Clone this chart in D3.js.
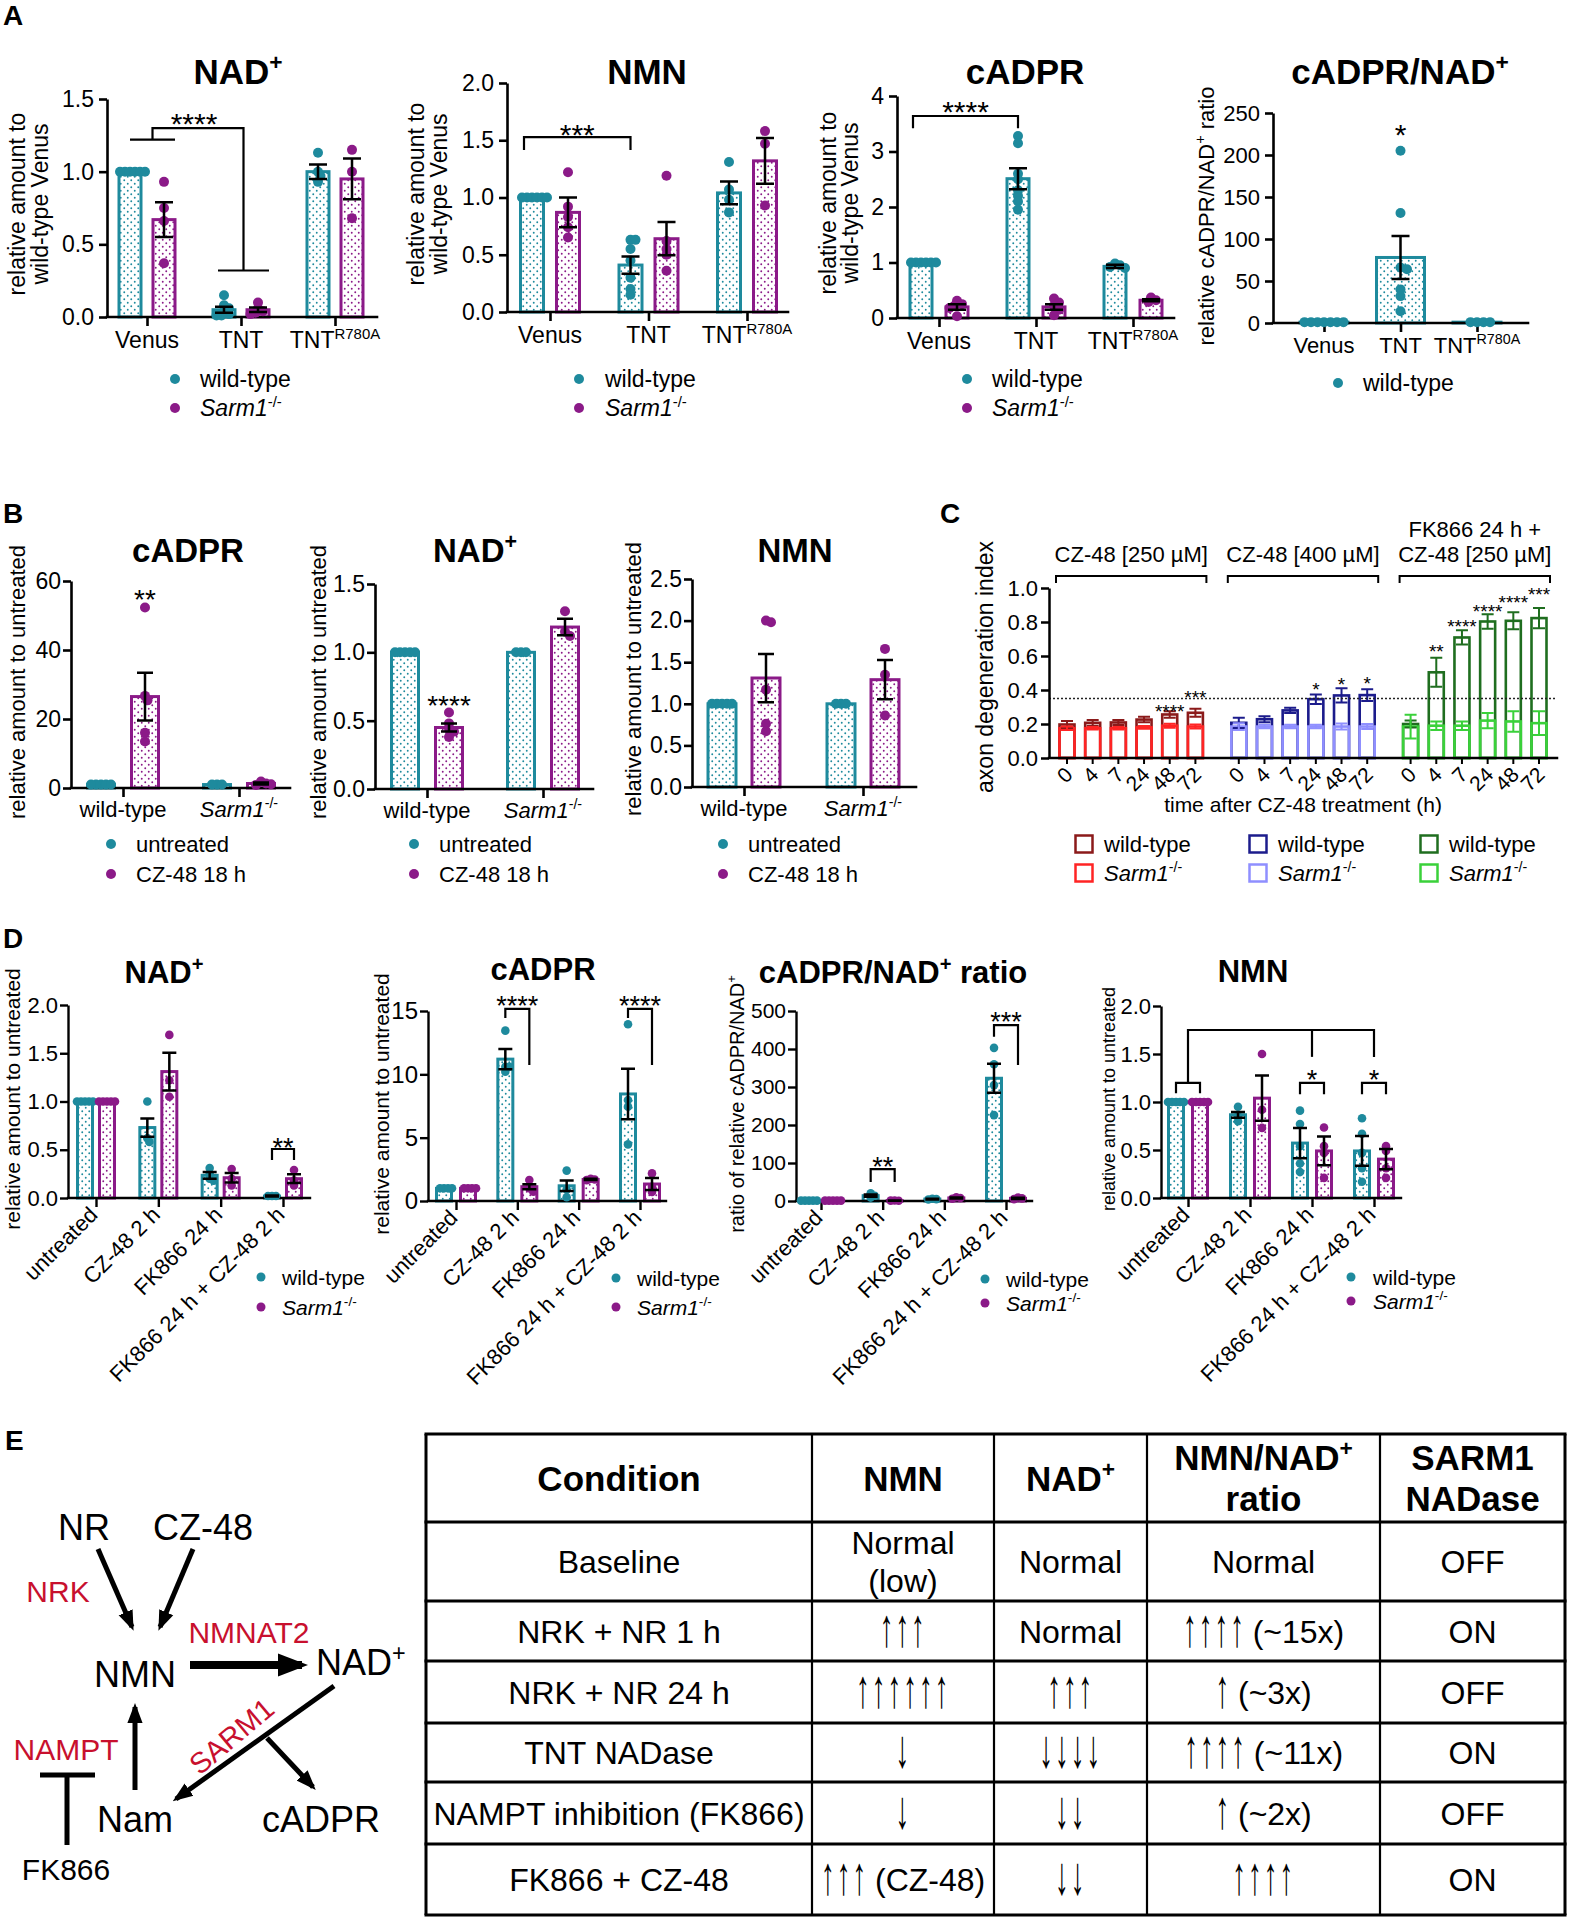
<!DOCTYPE html>
<html>
<head>
<meta charset="utf-8">
<script src="https://cdn.jsdelivr.net/npm/d3@7"></script>
<style>
  body { margin: 0; background: #fff; }
  svg { display: block; }
</style>
</head>
<body>
<div id="container"></div>
<script>
// ---------- data: panel A ----------
const aGroups = ['Venus', 'TNT', 'TNT^{R780A}'];
const aSeries = ['wild-type', '_{Sarm1}^{-/-}'];
const aSeriesWt = ['wild-type'];

const aNadTicks = [0, 0.5, 1.0, 1.5];
const aNadMean = [[1.00, 0.67], [0.05, 0.05], [1.00, 0.95]];
const aNadSem = [[0, 0.12], [0.02, 0.015], [0.05, 0.14]];
const aNadPts = [[[1, 1, 1, 1, 1, 1], [0.93, 0.75, 0.66, 0.37]],
                 [[0.15, 0.08, 0.06, 0.04, 0.02, 0.01, 0.01], [0.10, 0.06, 0.04, 0.03, 0.02]],
                 [[1.13, 1.00, 0.97, 0.93], [1.15, 1.00, 0.68]]];

const aNmnTicks = [0, 0.5, 1.0, 1.5, 2.0];
const aNmnMean = [[1.00, 0.87], [0.41, 0.64], [1.04, 1.32]];
const aNmnSem = [[0, 0.13], [0.075, 0.145], [0.10, 0.20]];
const aNmnPts = [[[1, 1, 1, 1, 1, 1], [1.22, 0.92, 0.83, 0.74, 0.65]],
                 [[0.63, 0.63, 0.55, 0.45, 0.30, 0.20, 0.15], [1.19, 0.62, 0.55, 0.50, 0.36]],
                 [[1.31, 1.07, 0.98, 0.87], [1.58, 1.47, 0.93]]];

const aCadprTicks = [0, 1, 2, 3, 4];
const aCadprMean = [[1.00, 0.20], [2.51, 0.20], [0.93, 0.32]];
const aCadprSem = [[0, 0.05], [0.19, 0.05], [0.03, 0.02]];
const aCadprPts = [[[1, 1, 1, 1, 1, 1], [0.31, 0.25, 0.22, 0.18, 0.03]],
                   [[3.28, 3.15, 2.60, 2.50, 2.30, 2.20, 2.10, 1.95], [0.35, 0.28, 0.22, 0.15, 0.05]],
                   [[0.98, 0.95, 0.92, 0.90], [0.37, 0.32, 0.29]]];

const aRatioTicks = [0, 50, 100, 150, 200, 250];
const aRatioMean = [[1], [78], [1]];
const aRatioSem = [[0], [25.5], [0]];
const aRatioPts = [[[1, 1, 1, 1, 1, 1, 1]], [[205, 131, 66, 64, 40, 32, 14]], [[1, 1, 1, 1]]];

// ---------- data: panel B ----------
const bGroups = ['wild-type', '_{Sarm1}^{-/-}'];
const bSeries = ['untreated', 'CZ-48 18 h'];

const bCadprTicks = [0, 20, 40, 60];
const bCadprMean = [[1, 26.5], [1, 1.3]];
const bCadprSem = [[0, 6.9], [0, 0.3]];
const bCadprPts = [[[1, 1, 1, 1, 1], [52.3, 26.7, 25.4, 16.0, 13.5]], [[1, 1, 1], [1.9, 1.3, 0.9, 1.1]]];

const bNadTicks = [0, 0.5, 1.0, 1.5];
const bNadMean = [[1, 0.45], [1, 1.185]];
const bNadSem = [[0, 0.03], [0, 0.06]];
const bNadPts = [[[1, 1, 1, 1, 1], [0.56, 0.48, 0.44, 0.42, 0.38]], [[1, 1, 1], [1.30, 1.15, 1.12]]];

const bNmnTicks = [0, 0.5, 1.0, 1.5, 2.0, 2.5];
const bNmnMean = [[1, 1.31], [1, 1.29]];
const bNmnSem = [[0, 0.29], [0, 0.235]];
const bNmnPts = [[[1, 1, 1, 1, 1], [2.00, 1.98, 1.17, 0.76, 0.67]], [[1, 1, 1], [1.66, 1.35, 0.86]]];

// ---------- data: panel C ----------
const cHours = ['0', '4', '7', '24', '48', '72'];
const cGroups = ['CZ-48 [250 µM]', 'CZ-48 [400 µM]', 'FK866 24 h +|CZ-48 [250 µM]'];
const cTicks = [0, 0.2, 0.4, 0.6, 0.8, 1.0];
const cWtMean = [[0.197, 0.207, 0.209, 0.226, 0.256, 0.266],
                 [0.207, 0.228, 0.280, 0.346, 0.368, 0.370],
                 [0.200, 0.504, 0.709, 0.803, 0.807, 0.823]];
const cWtSem = [[0.020, 0.017, 0.015, 0.016, 0.019, 0.023],
                [0.030, 0.018, 0.015, 0.028, 0.042, 0.035],
                [0.020, 0.085, 0.042, 0.042, 0.050, 0.060]];
const cKoMean = [[0.175, 0.175, 0.175, 0.180, 0.190, 0.185],
                 [0.185, 0.185, 0.185, 0.185, 0.185, 0.185],
                 [0.185, 0.190, 0.190, 0.220, 0.215, 0.205]];
const cKoSem = [[0.010, 0.008, 0.008, 0.008, 0.012, 0.012],
                [0.020, 0.010, 0.010, 0.010, 0.018, 0.015],
                [0.070, 0.025, 0.025, 0.045, 0.060, 0.070]];
const cStars = [['', '', '', '', '****', '***'], ['', '', '', '*', '*', '*'], ['', '**', '****', '****', '****', '***']];
const cStarLevel = [[0, 0, 0, 0, 0.30, 0.38], [0, 0, 0, 0.43, 0.46, 0.465], [0, 0.65, 0.80, 0.89, 0.94, 0.99]];
const cThreshold = 0.35;
const cLegend = ['wild-type', '_{Sarm1}^{-/-}'];

// ---------- data: panel D ----------
const dConds = ['untreated', 'CZ-48 2 h', 'FK866 24 h', 'FK866 24 h + CZ-48 2 h'];
const dSeries = ['wild-type', '_{Sarm1}^{-/-}'];

const dNadTicks = [0, 0.5, 1.0, 1.5, 2.0];
const dNadMean = [[1, 1], [0.73, 1.31], [0.235, 0.21], [0.02, 0.20]];
const dNadSem = [[0, 0], [0.095, 0.195], [0.035, 0.05], [0.005, 0.045]];
const dNadPts = [[[1, 1, 1, 1, 1], [1, 1, 1, 1, 1]], [[1.00, 0.62, 0.58], [1.69, 1.22, 1.05]],
                 [[0.31, 0.25, 0.20, 0.18], [0.30, 0.20, 0.13]], [[0.02, 0.02, 0.02], [0.29, 0.18, 0.13]]];

const dCadprTicks = [0, 5, 10, 15];
const dCadprMean = [[1, 1], [11.2, 1.13], [1.2, 1.7], [8.45, 1.34]];
const dCadprSem = [[0, 0], [0.8, 0.2], [0.42, 0.05], [2.0, 0.47]];
const dCadprPts = [[[1, 1, 1, 1], [1, 1, 1, 1]], [[13.45, 10.6, 10.2, 10.6], [1.66, 1.0, 0.74]],
                   [[2.4, 0.9, 0.3], [1.75, 1.7, 1.65]], [[13.95, 7.97, 7.45, 4.47], [2.18, 1.13, 0.71]]];

const dRatioTicks = [0, 100, 200, 300, 400, 500];
const dRatioMean = [[1, 1], [14, 1], [5, 8], [323, 7]];
const dRatioSem = [[0, 0], [3, 0.3], [1, 1.5], [38, 1.5]];
const dRatioPts = [[[1, 1, 1, 1, 1], [1, 1, 1, 1, 1]], [[20, 14, 9], [1.2, 0.8, 1.0]],
                   [[6, 5, 4], [10, 8, 6]], [[403, 360, 305, 226], [9, 7, 5]]];

const dNmnTicks = [0, 0.5, 1.0, 1.5, 2.0];
const dNmnMean = [[1, 1], [0.867, 1.04], [0.572, 0.49], [0.49, 0.405]];
const dNmnSem = [[0, 0], [0.03, 0.235], [0.157, 0.15], [0.155, 0.105]];
const dNmnPts = [[[1, 1, 1, 1, 1], [1, 1, 1, 1, 1]], [[0.95, 0.85, 0.80], [1.50, 0.92, 0.73]],
                 [[0.91, 0.77, 0.54, 0.36, 0.27], [0.735, 0.54, 0.47, 0.21]],
                 [[0.83, 0.67, 0.47, 0.31, 0.17], [0.54, 0.49, 0.31, 0.21]]];

// ---------- data: panel E table ----------
const eHeader = ['Condition', 'NMN', 'NAD^{+}', 'NMN/NAD^{+}|ratio', 'SARM1|NADase'];
const eCondition = ['Baseline', 'NRK + NR 1 h', 'NRK + NR 24 h', 'TNT NADase', 'NAMPT inhibition (FK866)', 'FK866 + CZ-48'];
const eNmn = ['Normal|(low)', '↑↑↑', '↑↑↑↑↑↑', '↓', '↓', '↑↑↑ (CZ-48)'];
const eNad = ['Normal', 'Normal', '↑↑↑', '↓↓↓↓', '↓↓', '↓↓'];
const eRatio = ['Normal', '↑↑↑↑ (~15x)', '↑ (~3x)', '↑↑↑↑ (~11x)', '↑ (~2x)', '↑↑↑↑'];
const eNadase = ['OFF', 'ON', 'OFF', 'ON', 'OFF', 'ON'];

// ---------- setup ----------
const FONT = "'Liberation Sans', Arial, Helvetica, sans-serif";
const TEAL = '#1e8a9d';
const PURPLE = '#8b1a88';
const RED = '#c8102e';

const svg = d3.select('#container').append('svg')
    .attr('width', 1570).attr('height', 1920)
    .attr('font-family', FONT);
svg.append('rect').attr('width', 1570).attr('height', 1920).attr('fill', '#fff');

const defs = svg.append('defs');
function dotPattern(id, color) {
    const p = defs.append('pattern').attr('id', id)
        .attr('patternUnits', 'userSpaceOnUse').attr('width', 7).attr('height', 7);
    p.append('rect').attr('width', 7).attr('height', 7).attr('fill', '#fff');
    p.append('circle').attr('cx', 1.75).attr('cy', 1.75).attr('r', 0.95).attr('fill', color);
    p.append('circle').attr('cx', 5.25).attr('cy', 5.25).attr('r', 0.95).attr('fill', color);
}
dotPattern('dotTeal', TEAL);
dotPattern('dotPurple', PURPLE);

function arrowMarker(id, size) {
    defs.append('marker').attr('id', id)
        .attr('viewBox', '0 0 10 10').attr('refX', 8).attr('refY', 5)
        .attr('markerWidth', size).attr('markerHeight', size)
        .attr('markerUnits', 'userSpaceOnUse').attr('orient', 'auto')
        .append('path').attr('d', 'M0,1.2 L10,5 L0,8.8 z').attr('fill', '#000');
}
arrowMarker('arrow', 20);
arrowMarker('arrowBig', 30);

// text with ^{sup} and _{italic} pieces
function rich(sel, str, fs) {
    const re = /\^\{([^}]*)\}|_\{([^}]*)\}|([^^_]+)/g;
    const sh = fs * 0.4;
    let m, up = false;
    while ((m = re.exec(str)) !== null) {
        const t = sel.append('tspan');
        if (m[1] !== undefined) {
            t.text(m[1]).attr('font-size', fs * 0.65).attr('dy', -sh);
            up = true;
        } else {
            t.text(m[2] !== undefined ? m[2] : m[3]);
            if (m[2] !== undefined) t.attr('font-style', 'italic');
            if (up) { t.attr('dy', sh); up = false; }
        }
    }
    return sel;
}

function txt(parent, x, y, str, fs, o = {}) {
    const t = parent.append('text')
        .attr('transform', `translate(${x},${y})` + (o.rot ? ` rotate(${o.rot})` : ''))
        .attr('font-size', fs)
        .attr('text-anchor', o.anchor || 'middle')
        .attr('font-weight', o.bold ? 'bold' : 'normal')
        .attr('fill', o.fill || '#000');
    return rich(t, str, fs);
}

// simple deterministic swarm so equal values sit side by side
function swarm(vals, y, spread) {
    const placed = [];
    return vals.map(v => {
        const py = y(v);
        let dx = 0;
        for (let k = 0; k < 60; k++) {
            dx = (k % 2 ? 1 : -1) * Math.ceil(k / 2) * spread / 2;
            if (placed.every(p => Math.hypot(p.dx - dx, p.y - py) >= spread)) break;
        }
        placed.push({ dx: dx, y: py });
        return { dx: dx, y: py };
    });
}

function drawBarChart(c) {
    const g = svg.append('g');
    const y = d3.scaleLinear().domain(d3.extent(c.ticks)).range([c.bottom, c.top]);
    const x = d3.scalePoint().domain(c.cats).range(c.catRange);
    const nS = c.series.length;
    const cx = i => x(c.cats[i]);
    const bx = (i, s) => cx(i) + (nS === 1 ? 0 : (s === 0 ? -c.offset : c.offset));
    const colors = [TEAL, PURPLE];
    const pats = ['dotTeal', 'dotPurple'];

    // bars
    c.mean.forEach((row, i) => row.forEach((v, s) => {
        g.append('rect')
            .attr('x', bx(i, s) - c.bw / 2).attr('y', y(v))
            .attr('width', c.bw).attr('height', y(0) - y(v))
            .attr('fill', `url(#${pats[s]})`)
            .attr('stroke', colors[s]).attr('stroke-width', c.barSw);
    }));

    // axes
    g.append('g').attr('transform', `translate(${c.left},0)`)
        .call(d3.axisLeft(y).tickValues(c.ticks).tickFormat(d3.format(c.fmt))
            .tickSize(8).tickSizeOuter(0).tickPadding(c.tickPad))
        .call(a => a.select('.domain').attr('stroke-width', c.sw))
        .call(a => a.selectAll('.tick line').attr('stroke-width', c.sw))
        .call(a => a.selectAll('.tick text').attr('font-size', c.tickFs)
            .attr('font-family', FONT).attr('fill', '#000'));
    g.append('g').attr('transform', `translate(0,${c.bottom})`)
        .call(d3.axisBottom(x).tickSize(9).tickSizeOuter(0).tickFormat(''))
        .call(a => a.select('.domain').remove())
        .call(a => a.selectAll('.tick line').attr('stroke-width', c.sw));
    g.append('line')
        .attr('x1', c.left).attr('x2', c.right).attr('y1', c.bottom).attr('y2', c.bottom)
        .attr('stroke', '#000').attr('stroke-width', c.sw).attr('stroke-linecap', 'square');

    // points
    c.pts.forEach((row, i) => row.forEach((vals, s) => {
        swarm(vals, y, c.spread).forEach(p => {
            g.append('circle').attr('cx', bx(i, s) + p.dx).attr('cy', p.y)
                .attr('r', c.r).attr('fill', colors[s]);
        });
    }));

    // error bars
    c.mean.forEach((row, i) => row.forEach((v, s) => {
        const e = c.sem[i][s];
        if (e <= 0) return;
        const px = bx(i, s), y1 = y(Math.max(0, v - e)), y2 = y(v + e);
        g.append('path')
            .attr('d', `M${px},${y1}V${y2}M${px - c.cap},${y1}H${px + c.cap}M${px - c.cap},${y2}H${px + c.cap}`)
            .attr('stroke', '#000').attr('stroke-width', 2.5).attr('fill', 'none');
    }));

    // category labels
    c.cats.forEach((lab, i) => {
        if (c.rotate) txt(g, cx(i) + 3, c.bottom + 18, lab, c.catFs, { anchor: 'end', rot: -45 });
        else txt(g, cx(i), c.bottom + c.catDy, lab, c.catFs);
    });

    // title + y label
    txt(g, c.titleX, c.titleY, c.title, c.titleFs, { bold: true });
    c.ylab.forEach((s, k) => txt(g, c.ylabX[k], c.ylabY, s, c.ylabFs, { rot: -90 }));

    // legend
    c.series.forEach((s, k) => {
        g.append('circle').attr('cx', c.legend.x).attr('cy', c.legend.ys[k])
            .attr('r', c.legend.r).attr('fill', colors[k]);
        txt(g, c.legend.x + c.legend.dx, c.legend.ys[k] + c.legend.fs * 0.36, s, c.legend.fs, { anchor: 'start' });
    });

    // significance marks
    if (c.annot) {
        c.annot({
            x: bx, cx: cx, y: y,
            path: pts => g.append('path')
                .attr('d', d3.line()(pts.map(p => [p[0], y(p[1])])))
                .attr('fill', 'none').attr('stroke', '#000').attr('stroke-width', 2.2),
            stars: (t, px, v, fs) => g.append('text')
                .attr('x', px).attr('y', y(v) + 0.57 * fs)
                .attr('text-anchor', 'middle').attr('font-size', fs).text(t)
        });
    }
}

// panel letters
[['A', 3, 25], ['B', 3, 523], ['C', 940, 523], ['D', 3, 948], ['E', 5, 1450]].forEach(d => {
    txt(svg, d[1], d[2], d[0], 28, { anchor: 'start', bold: true });
});

// ---------- panel A ----------
const aCommon = { cats: aGroups, series: aSeries, barSw: 3, sw: 2.6, r: 5, spread: 5, cap: 9,
    tickFs: 23, tickPad: 5, catFs: 23, catDy: 31, titleFs: 35, titleY: 84, ylabFs: 23 };

drawBarChart(Object.assign({}, aCommon, {
    mean: aNadMean, sem: aNadSem, pts: aNadPts, ticks: aNadTicks, fmt: '.1f',
    left: 107, right: 377, top: 99, bottom: 317, catRange: [147, 335], offset: 17, bw: 22,
    title: 'NAD^{+}', titleX: 238,
    ylab: ['relative amount to', 'wild-type Venus'], ylabX: [25, 48], ylabY: 204,
    legend: { x: 175, dx: 25, ys: [379, 408], fs: 23, r: 5 },
    annot: h => {
        const l = h.x(0, 0), r = h.x(0, 1) + 11, t1 = h.x(1, 0) - 6, t2 = h.x(1, 1) + 11;
        h.path([[l, 1.22], [r, 1.22]]);
        h.path([[(l + r) / 2, 1.22], [(l + r) / 2, 1.30], [(t1 + t2) / 2, 1.30], [(t1 + t2) / 2, 0.32]]);
        h.path([[t1, 0.32], [t2, 0.32]]);
        h.stars('****', (h.cx(0) + h.cx(1)) / 2, 1.376, 30);
    }
}));

drawBarChart(Object.assign({}, aCommon, {
    mean: aNmnMean, sem: aNmnSem, pts: aNmnPts, ticks: aNmnTicks, fmt: '.1f',
    left: 507, right: 788, top: 83, bottom: 312, catRange: [550, 747], offset: 18, bw: 23,
    title: 'NMN', titleX: 647,
    ylab: ['relative amount to', 'wild-type Venus'], ylabX: [424, 447], ylabY: 194,
    legend: { x: 579, dx: 26, ys: [379, 408], fs: 23, r: 5 },
    annot: h => {
        const l = h.x(0, 0) - 8, r = h.x(1, 0);
        h.path([[l, 1.415], [l, 1.528], [r, 1.528], [r, 1.415]]);
        h.stars('***', (l + r) / 2, 1.607, 30);
    }
}));

drawBarChart(Object.assign({}, aCommon, {
    mean: aCadprMean, sem: aCadprSem, pts: aCadprPts, ticks: aCadprTicks, fmt: 'd',
    left: 897, right: 1174, top: 96, bottom: 318, catRange: [939, 1133], offset: 18, bw: 22,
    title: 'cADPR', titleX: 1025,
    ylab: ['relative amount to', 'wild-type Venus'], ylabX: [836, 858], ylabY: 203,
    legend: { x: 967, dx: 25, ys: [379, 408], fs: 23, r: 5 },
    annot: h => {
        const l = h.x(0, 0) - 8, r = h.x(1, 0);
        h.path([[l, 3.42], [l, 3.64], [r, 3.64], [r, 3.42]]);
        h.stars('****', (l + r) / 2, 3.84, 30);
    }
}));

drawBarChart(Object.assign({}, aCommon, {
    series: aSeriesWt, spread: 6.5,
    mean: aRatioMean, sem: aRatioSem, pts: aRatioPts, ticks: aRatioTicks, fmt: 'd',
    left: 1273, right: 1528, top: 113, bottom: 323, catRange: [1324, 1477], offset: 0, bw: 48,
    tickFs: 22, catFs: 22, catDy: 30,
    title: 'cADPR/NAD^{+}', titleX: 1400,
    ylab: ['relative cADPR/NAD^{+} ratio'], ylabX: [1214], ylabY: 216, ylabFs: 22,
    legend: { x: 1338, dx: 25, ys: [383], fs: 23, r: 5 },
    annot: h => h.stars('*', h.cx(1), 232, 30)
}));

// ---------- panel B ----------
const bCommon = { cats: bGroups, series: bSeries, barSw: 3, sw: 2.6, r: 5, spread: 5, cap: 8,
    tickFs: 23, tickPad: 2, catFs: 22, catDy: 29, titleFs: 33, titleY: 562, ylabFs: 22, ylabY: 682,
    offset: 22, bw: 27 };

drawBarChart(Object.assign({}, bCommon, {
    mean: bCadprMean, sem: bCadprSem, pts: bCadprPts, ticks: bCadprTicks, fmt: 'd',
    left: 71, right: 290, top: 581, bottom: 788, catRange: [123, 239],
    title: 'cADPR', titleX: 188,
    ylab: ['relative amount to untreated'], ylabX: [25],
    legend: { x: 111, dx: 25, ys: [844, 874], fs: 22, r: 5 },
    annot: h => h.stars('**', h.x(0, 1), 56.5, 28)
}));

drawBarChart(Object.assign({}, bCommon, {
    mean: bNadMean, sem: bNadSem, pts: bNadPts, ticks: bNadTicks, fmt: '.1f',
    left: 375, right: 593, top: 584, bottom: 789, catRange: [427, 543],
    title: 'NAD^{+}', titleX: 475,
    ylab: ['relative amount to untreated'], ylabX: [326],
    legend: { x: 414, dx: 25, ys: [844, 874], fs: 22, r: 5 },
    annot: h => h.stars('****', h.x(0, 1), 0.66, 28)
}));

drawBarChart(Object.assign({}, bCommon, {
    mean: bNmnMean, sem: bNmnSem, pts: bNmnPts, ticks: bNmnTicks, fmt: '.1f',
    left: 692, right: 916, top: 579, bottom: 787, catRange: [744, 863], bw: 28,
    title: 'NMN', titleX: 795,
    ylab: ['relative amount to untreated'], ylabX: [641], ylabY: 679,
    legend: { x: 723, dx: 25, ys: [844, 874], fs: 22, r: 5 }
}));

// ---------- panel C ----------
function drawAxon() {
    const g = svg.append('g');
    const left = 1049, right = 1557, bottom = 758, top = 588;
    const wtColors = ['#8b1a1a', '#1c1c8c', '#1f6e1f'];
    const koColors = ['#ff2424', '#8f8fff', '#3ad13a'];
    const y = d3.scaleLinear().domain(d3.extent(cTicks)).range([bottom, top]);
    const GAP = 0.69, n = cHours.length;
    const x = d3.scaleLinear()
        .domain([0, cGroups.length * n - 1 + (cGroups.length - 1) * GAP])
        .range([1067, 1539]);
    const pos = (gi, k) => x(gi * (n + GAP) + k);
    const bw = 15;

    function bars(means, colorSet) {
        means.forEach((row, gi) => row.forEach((v, k) => {
            g.append('rect')
                .attr('x', pos(gi, k) - bw / 2).attr('y', y(v))
                .attr('width', bw).attr('height', y(0) - y(v))
                .attr('fill', 'none').attr('stroke', colorSet[gi]).attr('stroke-width', 2.6);
        }));
    }
    function errs(means, sems, colorSet) {
        means.forEach((row, gi) => row.forEach((v, k) => {
            const px = pos(gi, k), e = sems[gi][k];
            const y1 = y(v - e), y2 = y(v + e);
            g.append('path')
                .attr('d', `M${px},${y1}V${y2}M${px - 6},${y1}H${px + 6}M${px - 6},${y2}H${px + 6}`)
                .attr('stroke', colorSet[gi]).attr('stroke-width', 2).attr('fill', 'none');
        }));
    }
    bars(cWtMean, wtColors);
    bars(cKoMean, koColors);
    errs(cWtMean, cWtSem, wtColors);
    errs(cKoMean, cKoSem, koColors);

    // threshold
    g.append('line').attr('x1', left).attr('x2', right)
        .attr('y1', y(cThreshold)).attr('y2', y(cThreshold))
        .attr('stroke', '#222').attr('stroke-width', 1.5).attr('stroke-dasharray', '2,2');

    // axes
    g.append('g').attr('transform', `translate(${left},0)`)
        .call(d3.axisLeft(y).tickValues(cTicks).tickFormat(d3.format('.1f'))
            .tickSize(8).tickSizeOuter(0).tickPadding(3))
        .call(a => a.select('.domain').attr('stroke-width', 2.5))
        .call(a => a.selectAll('.tick line').attr('stroke-width', 2.5))
        .call(a => a.selectAll('.tick text').attr('font-size', 22).attr('font-family', FONT).attr('fill', '#000'));
    g.append('line').attr('x1', left).attr('x2', right).attr('y1', bottom).attr('y2', bottom)
        .attr('stroke', '#000').attr('stroke-width', 2.5).attr('stroke-linecap', 'square');

    cGroups.forEach((lab, gi) => {
        cHours.forEach((hr, k) => {
            g.append('line').attr('x1', pos(gi, k)).attr('x2', pos(gi, k))
                .attr('y1', bottom).attr('y2', bottom + 6).attr('stroke', '#000').attr('stroke-width', 2);
            txt(g, pos(gi, k) + 7, bottom + 18, hr, 21, { anchor: 'end', rot: -45 });
            if (cStars[gi][k]) {
                g.append('text').attr('x', pos(gi, k)).attr('y', y(cStarLevel[gi][k]) + 0.57 * 19)
                    .attr('text-anchor', 'middle').attr('font-size', 19).text(cStars[gi][k]);
            }
        });
        const l = pos(gi, 0) - 11, r = pos(gi, n - 1) + 11;
        g.append('path').attr('d', `M${l},583V576H${r}V583`)
            .attr('fill', 'none').attr('stroke', '#000').attr('stroke-width', 2);
        const lines = lab.split('|');
        lines.forEach((s, j) => txt(g, (l + r) / 2, 562 - (lines.length - 1 - j) * 25, s, 22));
    });

    txt(g, (left + right) / 2, 812, 'time after CZ-48 treatment (h)', 21);
    txt(g, 993, 667, 'axon degeneration index', 23, { rot: -90 });

    // legend
    const lx = [1084, 1258, 1429], ly = [844, 873];
    lx.forEach((px, gi) => {
        [wtColors[gi], koColors[gi]].forEach((col, s) => {
            g.append('rect').attr('x', px - 8.5).attr('y', ly[s] - 8.5).attr('width', 17).attr('height', 17)
                .attr('fill', 'none').attr('stroke', col).attr('stroke-width', 2.5);
            txt(g, px + 20, ly[s] + 8, cLegend[s], 22, { anchor: 'start' });
        });
    });
}
drawAxon();

// ---------- panel D ----------
const dCommon = { cats: dConds, series: dSeries, barSw: 3, sw: 2.4, r: 4.3, spread: 4, cap: 7,
    tickFs: 22, tickPad: 2, catFs: 22, rotate: true, titleFs: 31, ylabFs: 21, offset: 11.5, bw: 15 };

drawBarChart(Object.assign({}, dCommon, {
    mean: dNadMean, sem: dNadSem, pts: dNadPts, ticks: dNadTicks, fmt: '.1f',
    left: 68, right: 310, top: 1005, bottom: 1198, catRange: [96, 283], offset: 11,
    title: 'NAD^{+}', titleX: 164, titleY: 983,
    ylab: ['relative amount to untreated'], ylabX: [20], ylabY: 1099,
    legend: { x: 261, dx: 21, ys: [1277, 1307], fs: 21, r: 4.5 },
    annot: h => {
        const l = h.x(3, 0), r = h.x(3, 1);
        h.path([[l, 0.394], [l, 0.508], [r, 0.508], [r, 0.394]]);
        h.stars('**', (l + r) / 2, 0.58, 27);
    }
}));

drawBarChart(Object.assign({}, dCommon, {
    mean: dCadprMean, sem: dCadprSem, pts: dCadprPts, ticks: dCadprTicks, fmt: 'd',
    left: 428, right: 666, top: 1011, bottom: 1201, catRange: [456, 640], offset: 12,
    tickFs: 24,
    title: 'cADPR', titleX: 543, titleY: 980,
    ylab: ['relative amount to untreated'], ylabX: [389], ylabY: 1104,
    legend: { x: 616, dx: 21, ys: [1278, 1307], fs: 21, r: 4.5 },
    annot: h => {
        [1, 3].forEach(i => {
            const l = h.x(i, 0), r = h.x(i, 1);
            h.path([[l, 14.45], [l, 15.16], [r, 15.16], [r, 10.74]]);
            h.stars('****', (l + r) / 2, 15.9, 27);
        });
    }
}));

drawBarChart(Object.assign({}, dCommon, {
    mean: dRatioMean, sem: dRatioSem, pts: dRatioPts, ticks: dRatioTicks, fmt: 'd',
    left: 796, right: 1032, top: 1011, bottom: 1201, catRange: [821, 1006], offset: 12,
    tickFs: 21,
    title: 'cADPR/NAD^{+} ratio', titleX: 893, titleY: 983,
    ylab: ['ratio of relative cADPR/NAD^{+}'], ylabX: [744], ylabY: 1104, ylabFs: 20,
    legend: { x: 985, dx: 21, ys: [1279, 1303], fs: 21, r: 4.5 },
    annot: h => {
        let l = h.x(1, 0), r = h.x(1, 1);
        h.path([[l, 50], [l, 84], [r, 84], [r, 50]]);
        h.stars('**', (l + r) / 2, 105, 27);
        l = h.x(3, 0); r = h.x(3, 1);
        h.path([[l, 432], [l, 463], [r, 463], [r, 358]]);
        h.stars('***', (l + r) / 2, 487, 27);
    }
}));

drawBarChart(Object.assign({}, dCommon, {
    mean: dNmnMean, sem: dNmnSem, pts: dNmnPts, ticks: dNmnTicks, fmt: '.1f',
    left: 1161, right: 1401, top: 1006, bottom: 1198, catRange: [1188, 1374], offset: 12,
    title: 'NMN', titleX: 1253, titleY: 982,
    ylab: ['relative amount to untreated'], ylabX: [1115], ylabY: 1099, ylabFs: 18,
    legend: { x: 1351, dx: 22, ys: [1277, 1301], fs: 21, r: 4.5 },
    annot: h => {
        h.path([[h.cx(0), 1.20], [h.cx(0), 1.75], [h.cx(3), 1.75], [h.cx(3), 1.47]]);
        h.path([[h.cx(2), 1.75], [h.cx(2), 1.47]]);
        h.path([[h.x(0, 0), 1.09], [h.x(0, 0), 1.20], [h.x(0, 1), 1.20], [h.x(0, 1), 1.09]]);
        [2, 3].forEach(i => {
            h.path([[h.x(i, 0), 1.08], [h.x(i, 0), 1.20], [h.x(i, 1), 1.20], [h.x(i, 1), 1.08]]);
            h.stars('*', h.cx(i), 1.30, 27);
        });
    }
}));

// ---------- panel E: pathway sketch ----------
(function drawPathway() {
    const g = svg.append('g');
    const arrow = (x1, y1, x2, y2, w, m) => g.append('line')
        .attr('x1', x1).attr('y1', y1).attr('x2', x2).attr('y2', y2)
        .attr('stroke', '#000').attr('stroke-width', w).attr('marker-end', `url(#${m})`);
    arrow(98, 1549, 132, 1627, 5, 'arrow');
    arrow(193, 1549, 160, 1627, 5, 'arrow');
    arrow(190, 1665, 302, 1665, 8, 'arrowBig');
    arrow(334, 1686, 176, 1799, 5, 'arrow');
    arrow(267, 1738, 313, 1787, 5, 'arrow');
    arrow(135, 1790, 135, 1707, 5, 'arrow');
    g.append('path').attr('d', 'M67,1845V1775M40,1775H95')
        .attr('stroke', '#000').attr('stroke-width', 5).attr('fill', 'none');

    txt(g, 84, 1540, 'NR', 36);
    txt(g, 203, 1540, 'CZ-48', 36);
    txt(g, 58, 1602, 'NRK', 30, { fill: RED });
    txt(g, 249, 1643, 'NMNAT2', 30, { fill: RED });
    txt(g, 135, 1687, 'NMN', 36);
    txt(g, 316, 1675, 'NAD^{+}', 36, { anchor: 'start' });
    txt(g, 238, 1744, 'SARM1', 29, { fill: RED, rot: -40 });
    txt(g, 66, 1760, 'NAMPT', 30, { fill: RED });
    txt(g, 135, 1832, 'Nam', 36);
    txt(g, 321, 1832, 'cADPR', 36);
    txt(g, 66, 1880, 'FK866', 30);
})();

// ---------- panel E: table ----------
// a cell whose text starts with arrows: arrows drawn taller, rest beside them
function cellText(g, mx, by, s, fs) {
    const m = s.match(/^([↑↓]+)(.*)$/);
    if (!m) return txt(g, mx, by, s, fs);
    const rest = m[2].trim();
    const afs = fs * 0.87;
    const a = g.append('text').attr('font-size', afs).attr('letter-spacing', 1.8)
        .attr('fill', '#000').text(m[1]);
    const b = g.append('text').attr('font-size', fs).attr('fill', '#000').text(rest);
    const wa = a.node().getComputedTextLength();
    const gap = rest ? fs * 0.22 : 0;
    const wb = rest ? b.node().getComputedTextLength() : 0;
    const x0 = mx - (wa + gap + wb) / 2;
    a.attr('transform', `translate(${x0},${by + 3}) scale(1,1.95)`);
    b.attr('x', x0 + wa + gap).attr('y', by);
}

(function drawTable() {
    const g = svg.append('g');
    const colX = [426, 812, 994, 1147, 1380, 1565];
    const rowY = [1434, 1522, 1601, 1661, 1723, 1782, 1844, 1915];
    const columns = [eCondition, eNmn, eNad, eRatio, eNadase];

    rowY.forEach(yy => g.append('line').attr('x1', colX[0] - 1.5).attr('x2', colX[colX.length - 1] + 1.5)
        .attr('y1', yy).attr('y2', yy).attr('stroke', '#000').attr('stroke-width', 3));
    colX.forEach((xx, j) => g.append('line').attr('x1', xx).attr('x2', xx)
        .attr('y1', rowY[0]).attr('y2', rowY[rowY.length - 1])
        .attr('stroke', '#000').attr('stroke-width', (j === 0 || j === colX.length - 1) ? 3 : 2.2));

    eHeader.forEach((h, j) => {
        const lines = h.split('|');
        const mx = (colX[j] + colX[j + 1]) / 2, my = (rowY[0] + rowY[1]) / 2;
        lines.forEach((s, k) => txt(g, mx, my + (k - (lines.length - 1) / 2) * 41 + 0.36 * 35, s, 35, { bold: true }));
    });
    columns.forEach((col, j) => {
        col.forEach((cell, r) => {
            const lines = cell.split('|');
            const mx = (colX[j] + colX[j + 1]) / 2, my = (rowY[r + 1] + rowY[r + 2]) / 2;
            lines.forEach((s, k) => cellText(g, mx, my + (k - (lines.length - 1) / 2) * 38 + 0.36 * 32, s, 32));
        });
    });
})();
</script>
</body>
</html>
